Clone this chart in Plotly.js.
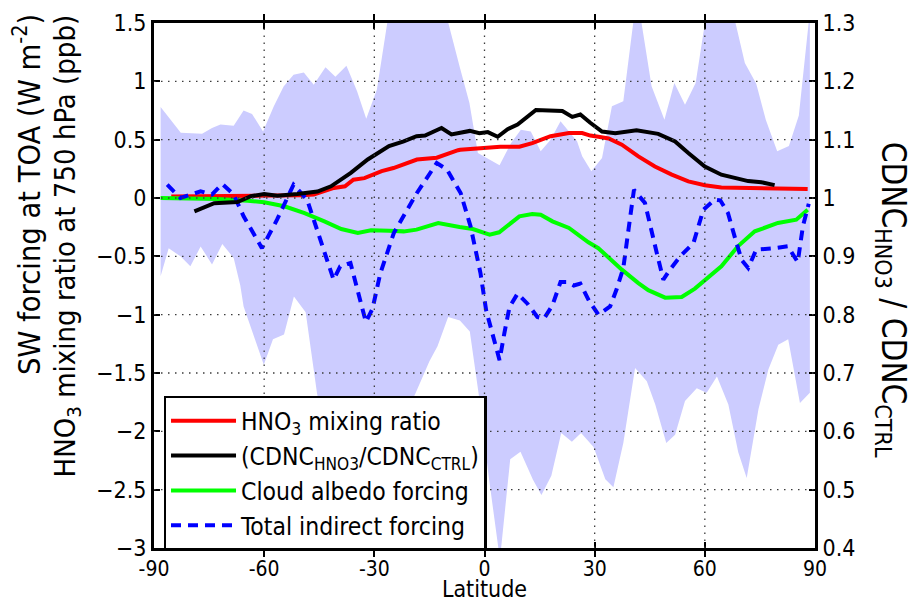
<!DOCTYPE html>
<html>
<head>
<meta charset="utf-8">
<script src="https://cdn.plot.ly/plotly-3.0.1.min.js"></script>
<style>html,body{margin:0;padding:0;background:#fff}#chart{width:914px;height:602px}</style>
</head>
<body>
<div id="chart"></div>
<script>
// Tick labels
const xTicks = [-90, -60, -30, 0, 30, 60, 90];
const yTicksLeft = [-3, -2.5, -2, -1.5, -1, -0.5, 0, 0.5, 1, 1.5];
const yTicksRight = [0.4, 0.5, 0.6, 0.7, 0.8, 0.9, 1, 1.1, 1.2, 1.3];

// HNO3 mixing ratio (ppb), left axis
const hno3Lat = [-85.3,-75,-65,-55,-50,-46.5,-43.6,-41,-38,-35.7,-32.7,-30.2,-28,-24.8,-21,-18.4,-13,-12.6,-7.2,-6.6,0,4.3,9.5,13,18,23,26.6,28.8,31,33.8,37.4,41.9,46.4,51,55.5,60,64.5,73.6,88];
const hno3Val = [0.012,0.014,0.016,0.02,0.024,0.03,0.057,0.086,0.1,0.157,0.17,0.2,0.23,0.257,0.3,0.33,0.345,0.35,0.41,0.414,0.43,0.44,0.44,0.47,0.53,0.557,0.557,0.535,0.525,0.51,0.457,0.357,0.27,0.2,0.143,0.109,0.091,0.086,0.077];

// CDNC_HNO3 / CDNC_CTRL, right axis
const cdncLat = [-79,-73.6,-67.3,-63.6,-60,-56.4,-51,-45.5,-41.8,-36.4,-31.8,-28.2,-26,-22,-18.5,-16.2,-11.7,-9,-4,-1.4,0.9,3.6,6.3,9,14,17.6,21.2,23.9,26.1,28.8,32,35.6,41.4,47.3,51.9,55.5,60,64.5,71.8,75.4,79];
const cdncVal = [0.977,0.991,0.993,1.003,1.007,1.004,1.007,1.011,1.020,1.043,1.066,1.080,1.089,1.097,1.106,1.107,1.120,1.109,1.115,1.111,1.113,1.105,1.118,1.126,1.151,1.150,1.149,1.139,1.143,1.129,1.114,1.111,1.116,1.110,1.097,1.077,1.054,1.040,1.029,1.027,1.022];

// Cloud albedo forcing (W m-2)
const albLat = [-88.2,-72.7,-64.5,-60,-54.5,-49,-43.6,-39,-34.5,-30.9,-26,-22,-18.5,-12.6,-6.8,-3.2,1.4,4,9.5,13,15.3,18.5,23,26.6,28.3,31,37.4,41.9,44.6,49.2,53.7,57.3,60,64.5,69,73.6,79.9,84.9,88];
const albVal = [0,-0.009,-0.023,-0.037,-0.071,-0.129,-0.2,-0.266,-0.3,-0.277,-0.28,-0.286,-0.271,-0.214,-0.249,-0.266,-0.314,-0.294,-0.157,-0.137,-0.143,-0.2,-0.257,-0.343,-0.38,-0.43,-0.614,-0.729,-0.79,-0.854,-0.849,-0.777,-0.706,-0.586,-0.414,-0.286,-0.214,-0.186,-0.1];

// Total indirect forcing (W m-2)
const totLat = [-86.4,-82.8,-77.3,-74.2,-71.4,-68.3,-65.6,-60.6,-56.5,-52,-48.3,-44.7,-41.1,-39.3,-36.5,-32.3,-30.5,-28.4,-24.7,-18.4,-14,-13,-10.2,-6.5,-3.8,-1.1,0.45,2.3,4.1,5.4,6.8,9,11.7,14.4,16.2,18.5,20.7,22.5,24.3,26.1,28.4,31,34.2,36,37.8,39.7,40.7,43.7,45.1,46.9,48.7,50.5,53.3,56.9,59.6,62.7,64.2,66.3,68.1,70,71.8,74,79,82.6,85.3,86.7,88.3];
const totVal = [0.114,0,0.057,0.03,0.12,0.03,-0.157,-0.43,-0.186,0.114,-0.015,-0.357,-0.7,-0.586,-0.557,-1.063,-0.95,-0.65,-0.3,0.043,0.243,0.3,0.243,0.043,-0.243,-0.643,-0.963,-1.19,-1.39,-1.16,-0.934,-0.82,-0.906,-1.02,-1.034,-0.92,-0.72,-0.72,-0.75,-0.734,-0.877,-1.0,-0.93,-0.78,-0.6,-0.157,0.07,-0.043,-0.243,-0.47,-0.7,-0.614,-0.5,-0.386,-0.1,-0.014,-0.02,-0.129,-0.329,-0.53,-0.6,-0.443,-0.43,-0.414,-0.55,-0.243,-0.05];

// Spread band (upper / lower bounds)
const bandUpLat = [-88.2,-82.7,-76.9,-74.2,-71.9,-68.3,-65.6,-63.3,-60.3,-57.4,-54.7,-52,-49.2,-46.5,-43.3,-40.6,-37.6,-34.7,-32.2,-30.2,-29.3,-25,-19,-13,-11.5,-6.8,-4.1,-1.8,4.1,7.2,9.9,12.6,15.3,18,20.7,23,25.2,26.6,29.1,32,34.7,37.8,41.5,45.5,49,51.7,54.6,57.5,61.5,66.5,70.9,74,76.6,79.7,82.9,85.6,88.6];
const bandUpVal = [0.78,0.56,0.55,0.6,0.63,0.62,0.75,0.72,0.57,0.785,0.956,1.056,1.076,0.97,1.12,1.04,1.134,0.914,0.68,0.843,0.93,1.8,1.95,1.85,1.7,1.13,0.814,0.386,0.28,0.47,0.586,0.571,0.4,0.5,0.657,0.571,0.486,0.357,0.229,0.343,0.786,0.829,1.75,0.957,0.671,0.986,0.8,0.986,1.8,1.75,1.157,0.98,0.67,0.4,0.445,0.707,1.6];
const bandLoLat = [-88.2,-86,-82.8,-80.1,-77.3,-74.2,-71.4,-68.3,-66.5,-65.6,-60.1,-57.6,-54.6,-51.9,-48.7,-45.6,-42,-38,-34,-30,-26,-22,-18.4,-15,-12.8,-9.9,-6.7,-4,-1.5,1.2,4.2,7,9.8,13.2,15.5,18.2,20.9,23.8,26.3,29.7,32.9,35.1,37.8,41,44.2,46.5,49.5,51.9,54.6,57.8,60.5,63.3,66.4,69.1,71.4,74.6,77.3,80,82.7,85.9,88.6];
const bandLoVal = [-0.67,-0.43,-0.5,-0.586,-0.415,-0.57,-0.394,-0.514,-0.75,-0.93,-1.43,-1.21,-1.17,-0.845,-0.98,-1.675,-2.2,-2.4,-2.1,-2.3,-2.1,-1.9,-1.645,-1.4,-1.27,-1.02,-1.05,-1.145,-1.7,-2.4,-3.1,-2.24,-2.175,-2.415,-2.545,-2.38,-2.015,-2.09,-2.015,-2.135,-2.41,-2.48,-2.1,-1.457,-1.57,-1.77,-2.1,-2.03,-1.74,-1.63,-1.67,-1.53,-1.77,-2.18,-2.4,-1.81,-1.47,-1.257,-1.21,-1.757,-1.67];

const FONT = '"DejaVu Sans Condensed", "DejaVu Sans", sans-serif';

const bandX = bandUpLat.concat(bandLoLat.slice().reverse());
const bandY = bandUpVal.concat(bandLoVal.slice().reverse());

const traces = [
  {x: bandX, y: bandY, type: 'scatter', mode: 'lines', fill: 'toself',
   fillcolor: 'rgb(204,204,255)', line: {width: 0, color: 'rgb(204,204,255)'},
   showlegend: false, hoverinfo: 'skip'},
  {x: hno3Lat, y: hno3Val, type: 'scatter', mode: 'lines', name: 'HNO<sub>3</sub> mixing ratio',
   line: {color: 'rgb(255,0,0)', width: 4}},
  {x: cdncLat, y: cdncVal, type: 'scatter', mode: 'lines', yaxis: 'y2',
   name: '(CDNC<sub>HNO3</sub>/CDNC<sub>CTRL</sub>)',
   line: {color: 'rgb(0,0,0)', width: 4}},
  {x: albLat, y: albVal, type: 'scatter', mode: 'lines', name: 'Cloud albedo forcing',
   line: {color: 'rgb(0,255,0)', width: 4}},
  {x: totLat, y: totVal, type: 'scatter', mode: 'lines', name: 'Total indirect forcing',
   line: {color: 'rgb(0,0,255)', width: 4, dash: '10px,7px'}}
];

const gridStyle = {color: 'rgb(60,60,60)', width: 1.3, dash: '1.5px,5.5px'};
const shapes = [];
xTicks.slice(1, -1).forEach(v => shapes.push({type: 'line', xref: 'x', yref: 'paper', x0: v, x1: v, y0: 0, y1: 1, line: gridStyle, layer: 'above'}));
yTicksLeft.slice(1, -1).forEach(v => shapes.push({type: 'line', xref: 'paper', yref: 'y', x0: 0, x1: 1, y0: v, y1: v, line: gridStyle, layer: 'above'}));

const layout = {
  width: 914, height: 602,
  margin: {l: 154, r: 99, t: 23, b: 54},
  paper_bgcolor: '#fff', plot_bgcolor: '#fff',
  font: {family: FONT, color: '#000'},
  showlegend: true,
  xaxis: {
    range: [-90, 90], tickvals: xTicks, ticktext: xTicks.map(String),
    ticks: 'inside', ticklen: 6, tickwidth: 2, tickcolor: '#000',
    showline: true, linewidth: 3, linecolor: '#000', mirror: 'allticks',
    showgrid: false, zeroline: false, tickfont: {size: 21, family: FONT},
    title: {text: 'Latitude', font: {size: 23, family: FONT}, standoff: 0}
  },
  yaxis: {
    range: [-3, 1.5], tickvals: yTicksLeft,
    ticks: 'inside', ticklen: 6, tickwidth: 2, tickcolor: '#000',
    showline: true, linewidth: 3, linecolor: '#000',
    showgrid: false, zeroline: false, tickfont: {size: 23, family: FONT}
  },
  yaxis2: {
    range: [0.4, 1.3], tickvals: yTicksRight, overlaying: 'y', side: 'right',
    ticks: 'inside', ticklen: 6, tickwidth: 2, tickcolor: '#000',
    showline: true, linewidth: 3, linecolor: '#000',
    showgrid: false, zeroline: false, tickfont: {size: 23, family: FONT}
  },
  legend: {
    x: 0.0144, y: 0.29, xanchor: 'left', yanchor: 'top',
    bgcolor: '#fff', bordercolor: '#000', borderwidth: 2.5,
    font: {size: 24.5, family: FONT}, itemwidth: 65, traceorder: 'normal'
  },
  shapes: shapes,
  annotations: [
    {
      text: 'SW forcing at TOA (W m<sup>-2</sup>)',
      xref: 'paper', yref: 'paper', x: -0.192, y: 1.02, xanchor: 'center', yanchor: 'top',
      textangle: -90, showarrow: false, font: {size: 30.5, family: FONT}
    },
    {
      text: 'HNO<sub>3</sub> mixing ratio at 750 hPa (ppb)',
      xref: 'paper', yref: 'paper', x: -0.131, y: 1.02, xanchor: 'center', yanchor: 'top',
      textangle: -90, showarrow: false, font: {size: 29, family: FONT}
    },
    {
      text: 'CDNC<sub>HNO3</sub> / CDNC<sub>CTRL</sub>', xref: 'paper', yref: 'paper',
      x: 1.115, y: 0.473, xanchor: 'center', yanchor: 'middle', textangle: 90,
      showarrow: false, font: {size: 33, family: FONT}
    }
  ]
};

Plotly.newPlot('chart', traces, layout, {displayModeBar: false, staticPlot: true});
</script>
</body>
</html>
